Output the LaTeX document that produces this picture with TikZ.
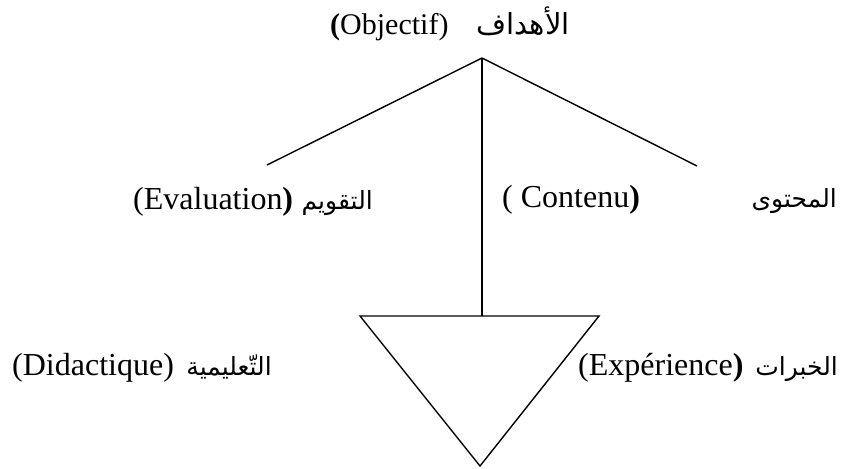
\documentclass[tikz,border=0pt]{standalone}
\usepackage{fontspec}
\setmainfont{Liberation Serif}
\newfontfamily\arabicfont[Script=Arabic]{DejaVu Sans}
\TeXXeTstate=1
\begin{document}
\begin{tikzpicture}[x=1pt,y=-1pt,
  lat/.style={inner sep=0pt,anchor=base west,font=\fontsize{32}{36}\selectfont},
  ara/.style={inner sep=0pt,anchor=base east,font=\fontsize{25}{30}\arabicfont},
  edge/.style={line width=1.4pt}]
\useasboundingbox (0,0) rectangle (850,468);
% labels
\node[lat,font=\fontsize{30}{34}\selectfont] (objL) at (330,35) {\textbf{(}Objectif)};
\node[ara,font=\fontsize{29}{34}\arabicfont] (objA) at (570,35) {\beginR الأهداف\endR};
\node[lat] (evaL) at (133,209) {(Evaluation\textbf{)}};
\node[ara] (evaA) at (373,209) {\beginR التقويم\endR};
\node[lat] (conL) at (502,207) {( Contenu\textbf{)}};
\node[ara] (conA) at (837,207) {\beginR المحتوى\endR};
\node[lat] (didL) at (12,375) {(Didactique)};
\node[ara] (didA) at (272,375) {\beginR التّعليمية\endR};
\node[lat] (expL) at (578,375) {(Expérience\textbf{)}};
\node[ara] (expA) at (838,375) {\beginR الخبرات\endR};
% structure
\coordinate (apex) at (482,58);
\coordinate (lend) at (267,165);
\coordinate (rend) at (697,166);
\coordinate (tl) at (360,316);
\coordinate (tr) at (599,316);
\coordinate (tb) at (480,466);
\coordinate (tm) at (482,316);
\draw[edge] (apex) -- (lend);
\draw[edge] (apex) -- (rend);
\draw[edge] (apex) -- (tm);
\draw[edge,line join=miter] (tl) -- (tr) -- (tb) -- cycle;
\end{tikzpicture}
\end{document}
